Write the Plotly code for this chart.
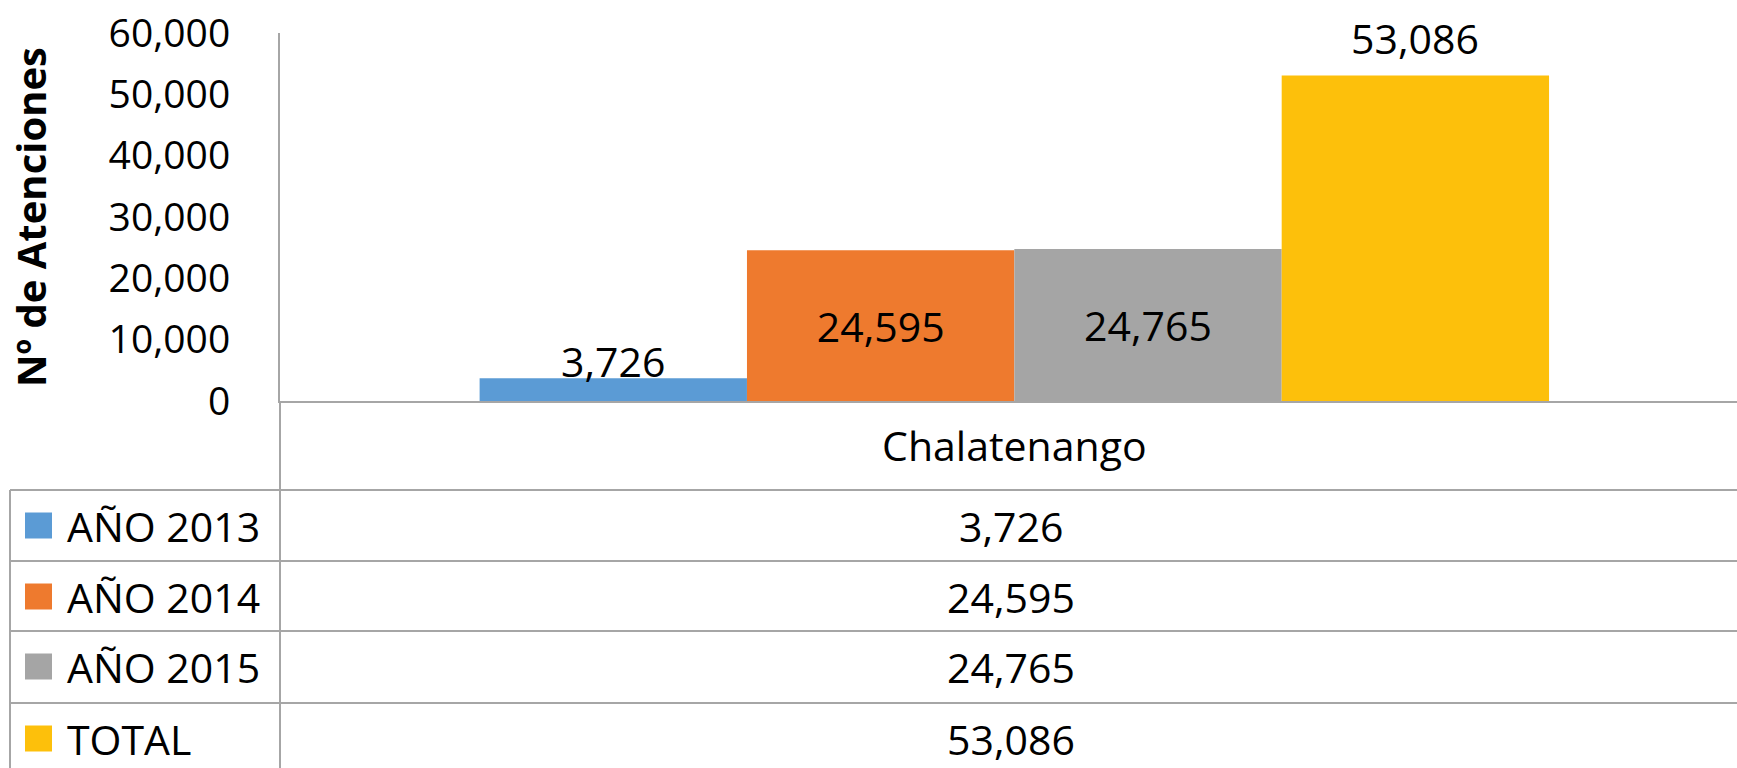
import plotly.graph_objects as go

categories = ["Chalatenango"]
series_names = ["AÑO 2013", "AÑO 2014", "AÑO 2015", "TOTAL"]
series_values = [3726, 24595, 24765, 53086]
series_colors = ["#5B9BD5", "#EE7A2E", "#A5A5A5", "#FDC00B"]
label_positions = ["above", "inside", "inside", "above"]
y_tick_vals = [0, 10000, 20000, 30000, 40000, 50000, 60000]

FONT = "Open Sans"
W, H = 1737, 768
ML, MR, MT, MB = 280, 0, 33, 367
PW, PH = W - ML - MR, H - MT - MB
BARGAP = 0.266
GRID = "#A6A6A6"
XSHIFT_CAT = 0.004  # group sits slightly right of centre in the original


def px(xp):
    return (xp - ML) / PW


def py(yp):
    return (H - MB - yp) / PH


fig = go.Figure()
for i, (name, val, col, pos) in enumerate(zip(series_names, series_values, series_colors, label_positions)):
    fig.add_trace(go.Bar(
        name=name,
        x=categories,
        y=[val],
        marker=dict(color=col, line=dict(width=0)),
        text=[f"{val:,}"] if pos == "inside" else None,
        textposition="inside" if pos == "inside" else "none",
        insidetextanchor="middle",
        textfont=dict(family=FONT, size=41, color="black"),
        cliponaxis=False,
        showlegend=False,
    ))

# labels placed above bars (Excel-style positions)
n = len(series_values)
bar_w = PW * (1 - BARGAP) / n
above_shift = {0: 17, 3: 37}
for i, (val, pos) in enumerate(zip(series_values, label_positions)):
    if pos != "above":
        continue
    fig.add_annotation(
        x=categories[0], y=val, xref="x", yref="y",
        text=f"{val:,}", showarrow=False,
        xshift=bar_w * (i - (n - 1) / 2), yshift=above_shift[i], yanchor="middle",
        font=dict(family=FONT, size=41, color="black"),
    )

shapes = []
# vertical axis extension down through the table
shapes.append(dict(type="line", xref="paper", yref="paper", x0=0, x1=0, y0=0, y1=py(H),
                   line=dict(color=GRID, width=2)))
# table horizontal lines
row_tops = [490, 561, 631, 703]
row_h = 71
for yl in row_tops:
    shapes.append(dict(type="line", xref="paper", yref="paper", x0=px(10), x1=1, y0=py(yl), y1=py(yl),
                       line=dict(color=GRID, width=2)))
# left table border
shapes.append(dict(type="line", xref="paper", yref="paper", x0=px(10), x1=px(10), y0=py(row_tops[0]), y1=py(H),
                   line=dict(color=GRID, width=2)))

annotations = []
for i, (name, val, col) in enumerate(zip(series_names, series_values, series_colors)):
    yc = row_tops[i] + row_h / 2
    shapes.append(dict(type="rect", xref="paper", yref="paper", x0=px(25), x1=px(52),
                       y0=py(yc - 13), y1=py(yc + 13), fillcolor=col, line=dict(width=0)))
    annotations.append(dict(x=px(65), y=py(yc), xref="paper", yref="paper", text=name,
                            showarrow=False, xanchor="left", yanchor="middle",
                            font=dict(family=FONT, size=41, color="black")))
    annotations.append(dict(x=0.5 + XSHIFT_CAT / 2, y=py(yc), xref="paper", yref="paper", text=f"{val:,}",
                            showarrow=False, xanchor="center", yanchor="middle",
                            font=dict(family=FONT, size=41, color="black")))

# rotated axis title
annotations.append(dict(x=px(30), y=py(217), xref="paper", yref="paper", text="<b>Nº de Atenciones</b>",
                        showarrow=False, textangle=-90, xanchor="center", yanchor="middle",
                        font=dict(family=FONT, size=40, color="black")))

for a in annotations:
    fig.add_annotation(**a)

fig.update_layout(
    width=W, height=H,
    margin=dict(l=ML, r=MR, t=MT, b=MB, autoexpand=False),
    paper_bgcolor="white", plot_bgcolor="white",
    barmode="group", bargap=BARGAP, bargroupgap=0,
    shapes=shapes,
)
fig.update_xaxes(
    range=[-0.5 - XSHIFT_CAT, 0.5 - XSHIFT_CAT],
    showline=True, linecolor=GRID, linewidth=2, showgrid=False, ticks="",
    tickfont=dict(family=FONT, size=41, color="black"), ticklabelstandoff=9,
)
fig.update_yaxes(
    range=[0, 60000], tickvals=y_tick_vals, tickformat=",d", showgrid=False, zeroline=False,
    showline=True, linecolor=GRID, linewidth=2, ticks="", ticklabelstandoff=40,
    tickfont=dict(family=FONT, size=39, color="black"),
)

fig.write_html(
    "out.html",
    config={"displayModeBar": False},
    post_script="document.body.style.margin='0';document.body.style.overflow='hidden';",
)
